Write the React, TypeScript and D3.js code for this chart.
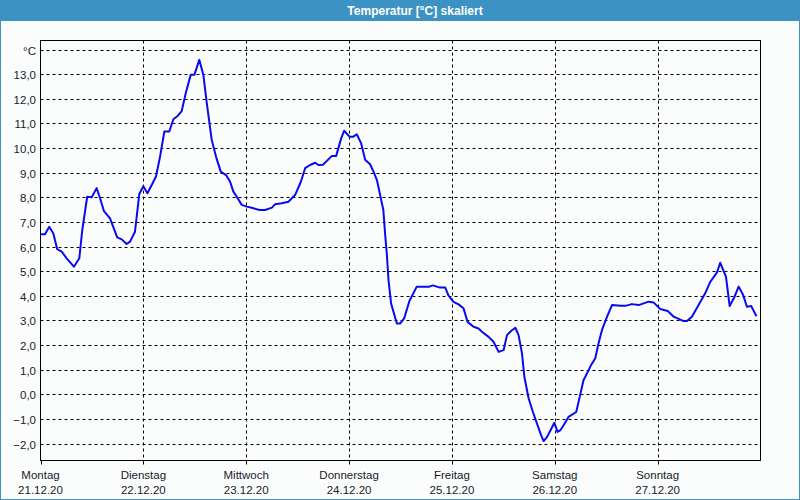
import React from "react";
import * as d3 from "d3";

// hours since Mon 21.12.20 00:00
const hours = [0, 1.05, 2.05, 3.0, 3.9, 4.95, 6.1, 7.8, 9.05, 9.75, 10.9, 11.95, 13.1, 13.9, 14.8, 16.2, 17.9, 18.95, 20.1, 20.9, 22.05, 23.05, 24.0, 24.95, 25.95, 26.95, 27.9, 28.9, 30.05, 31.0, 32.0, 32.95, 33.9, 35.05, 35.9, 37.05, 38.0, 38.8, 39.95, 40.95, 42.05, 43.3, 44.25, 45.0, 45.8, 46.95, 48.15, 49.7, 51.1, 52.4, 54.0, 54.75, 56.3, 57.85, 59.4, 60.75, 61.75, 62.9, 64.1, 64.85, 65.9, 68.0, 69.0, 70.1, 70.85, 72.1, 73.0, 73.8, 74.8, 75.75, 76.9, 77.7, 78.5, 79.25, 80.0, 80.4, 80.8, 81.2, 81.8, 83.15, 83.9, 84.85, 86.1, 87.8, 89.35, 90.75, 91.55, 93.25, 94.45, 95.2, 96.35, 97.55, 98.7, 99.65, 101.05, 102.2, 103.0, 104.55, 105.7, 106.9, 108.05, 108.85, 109.85, 110.8, 111.55, 112.35, 112.9, 113.9, 114.9, 115.85, 116.8, 117.4, 118.2, 119.1, 119.9, 120.65, 121.3, 122.05, 123.2, 125.0, 125.55, 126.7, 127.9, 128.45, 129.45, 130.2, 131.0, 132.2, 133.35, 135.45, 136.45, 138.0, 139.55, 141.9, 143.05, 144.6, 146.35, 147.75, 150.05, 150.85, 152.0, 153.55, 155.1, 156.3, 157.85, 158.6, 159.95, 160.8, 161.9, 162.9, 163.95, 164.85, 165.85, 167.05];
const temps = [6.5, 6.5, 6.8, 6.53, 5.89, 5.79, 5.52, 5.18, 5.52, 6.67, 8.02, 8.0, 8.37, 7.96, 7.44, 7.15, 6.37, 6.29, 6.1, 6.2, 6.6, 8.13, 8.45, 8.16, 8.5, 8.84, 9.65, 10.67, 10.67, 11.17, 11.3, 11.5, 12.23, 12.97, 12.97, 13.58, 12.97, 11.82, 10.33, 9.65, 9.04, 8.9, 8.63, 8.23, 8.02, 7.69, 7.62, 7.55, 7.48, 7.48, 7.58, 7.72, 7.76, 7.82, 8.09, 8.63, 9.18, 9.31, 9.4, 9.31, 9.32, 9.68, 9.68, 10.36, 10.7, 10.46, 10.46, 10.56, 10.2, 9.52, 9.34, 9.04, 8.7, 8.09, 7.48, 6.53, 5.72, 4.64, 3.69, 2.87, 2.87, 3.08, 3.8, 4.37, 4.37, 4.37, 4.42, 4.33, 4.33, 4.01, 3.75, 3.65, 3.49, 2.94, 2.74, 2.67, 2.54, 2.33, 2.13, 1.72, 1.79, 2.4, 2.58, 2.7, 2.4, 1.66, 0.71, -0.17, -0.72, -1.19, -1.66, -1.9, -1.73, -1.43, -1.16, -1.53, -1.46, -1.26, -0.92, -0.72, -0.31, 0.57, 0.98, 1.18, 1.46, 2.06, 2.6, 3.15, 3.62, 3.59, 3.59, 3.66, 3.62, 3.76, 3.73, 3.46, 3.38, 3.15, 2.97, 2.97, 3.15, 3.62, 4.1, 4.57, 4.95, 5.34, 4.77, 3.58, 3.94, 4.37, 4.03, 3.55, 3.58, 3.17, 3.45];

const dayNames = ["Montag", "Dienstag", "Mittwoch", "Donnerstag", "Freitag", "Samstag", "Sonntag"];
const dayDates = ["21.12.20", "22.12.20", "23.12.20", "24.12.20", "25.12.20", "26.12.20", "27.12.20"];
const yTicks = [-2, -1, 0, 1, 2, 3, 4, 5, 6, 7, 8, 9, 10, 11, 12, 13, 14];
const title = "Temperatur [°C] skaliert";

const W = 800, H = 500;
const L = 40.5, R = 760.5, T = 40.5, B = 460.5;
const FONT = "'Liberation Sans', Arial, sans-serif";

export default function App() {
  const x = d3.scaleLinear().domain([0, 168]).range([L, R]);
  const y = d3.scaleLinear().domain([-2, 14]).range([443.5, 49.5]);
  const line = d3.line<number>().x((_, i) => x(hours[i])).y((d) => y(d));
  const dayTicks = d3.range(0, 7).map((i) => i * 24);

  return (
    <svg width={W} height={H} style={{ position: "absolute", left: 0, top: 0 }} fontFamily={FONT}>
      <rect x={0} y={0} width={W} height={H} fill="#fbfdfc" />
      <rect x={0.5} y={0.5} width={W - 1} height={H - 1} fill="none" stroke="#3d92c4" strokeWidth={1} />
      <rect x={0} y={0} width={W} height={21} fill="#3d92c4" />
      <text x={415} y={14.5} textAnchor="middle" fill="#fff" fontWeight="bold" fontSize={12}>{title}</text>

      {yTicks.map((t) => (
        <g key={t}>
          <line x1={L} x2={R} y1={Math.round(y(t)) + 0.5} y2={Math.round(y(t)) + 0.5} stroke="#000" strokeDasharray="3,3" />
          <text x={36} y={Math.round(y(t)) + 4.5} textAnchor="end" fontSize={11.5} fill="#1a1a2a">
            {t === 14 ? "°C" : d3.format(".1f")(t).replace(".", ",")}
          </text>
        </g>
      ))}

      {dayTicks.map((h, i) => (
        <g key={h}>
          {i > 0 && (
            <line x1={Math.round(x(h)) + 0.5} x2={Math.round(x(h)) + 0.5} y1={T} y2={B} stroke="#000" strokeDasharray="3,3" />
          )}
          <line x1={Math.round(x(h)) + 0.5} x2={Math.round(x(h)) + 0.5} y1={B} y2={B + 4} stroke="#000" />
          <text x={x(h)} y={479} textAnchor="middle" fontSize={11.5} fill="#1a1a2a">{dayNames[i]}</text>
          <text x={x(h)} y={494} textAnchor="middle" fontSize={11.5} fill="#1a1a2a">{dayDates[i]}</text>
        </g>
      ))}

      <rect x={L} y={T} width={R - L} height={B - T} fill="none" stroke="#000" strokeWidth={1} />
      <path d={line(temps) || ""} fill="none" stroke="#0a0af0" strokeWidth={2} strokeLinejoin="round" />
    </svg>
  );
}
